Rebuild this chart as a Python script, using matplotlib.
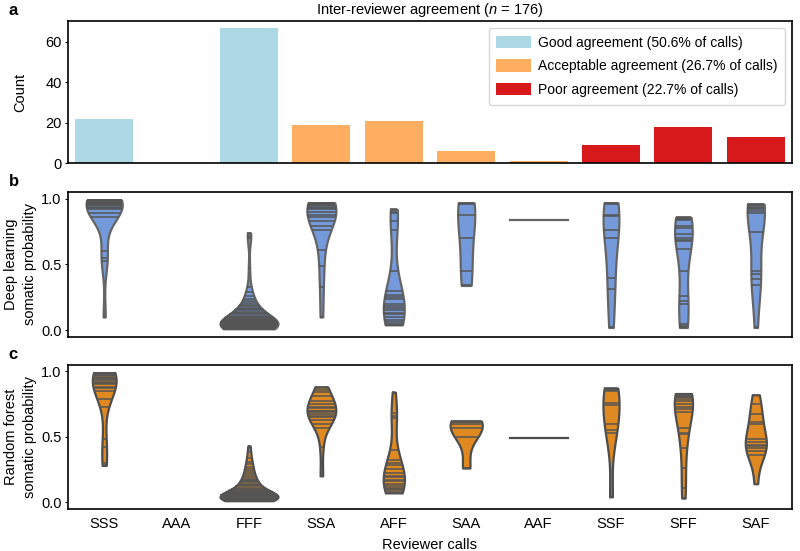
import matplotlib
matplotlib.use('Agg')
import matplotlib.pyplot as plt
from matplotlib.patches import Patch
import seaborn as sns
import pandas as pd

plt.rcParams['font.family'] = ['Liberation Sans', 'DejaVu Sans']
plt.rcParams['mathtext.fontset'] = 'custom'
plt.rcParams['mathtext.it'] = 'Liberation Sans:italic'
plt.rcParams['axes.linewidth'] = 1.2

# 審查者判定類別與數量
calls = ['SSS', 'AAA', 'FFF', 'SSA', 'AFF', 'SAA', 'AAF', 'SSF', 'SFF', 'SAF']
counts = [22, 0, 67, 19, 21, 6, 1, 9, 18, 13]
agreement = ['good', 'good', 'good', 'acceptable', 'acceptable', 'acceptable',
             'acceptable', 'poor', 'poor', 'poor']

agree_colors = {'good': '#add8e6', 'acceptable': '#fdae61', 'poor': '#d7191c'}
agree_labels = {'good': 'Good agreement (50.6% of calls)',
                'acceptable': 'Acceptable agreement (26.7% of calls)',
                'poor': 'Poor agreement (22.7% of calls)'}

# deep learning somatic probability
dl_sss = [0.99, 0.99, 0.99, 0.98, 0.98, 0.98, 0.97, 0.97, 0.97, 0.96, 0.96,
          0.95, 0.95, 0.94, 0.93, 0.92, 0.89, 0.86, 0.60, 0.55, 0.53, 0.10]
dl_fff = [0.74, 0.72, 0.70, 0.47, 0.33, 0.29, 0.26, 0.24, 0.22, 0.21,
          0.19, 0.18, 0.17, 0.16, 0.15, 0.14, 0.13, 0.12, 0.11, 0.10,
          0.09, 0.09, 0.08, 0.08, 0.08, 0.07, 0.07, 0.07, 0.06, 0.06,
          0.06, 0.06, 0.05, 0.05, 0.05, 0.05,
          0.04, 0.04, 0.04, 0.04, 0.04, 0.04, 0.04, 0.04,
          0.03, 0.03, 0.03, 0.03, 0.03, 0.03, 0.03, 0.03, 0.03,
          0.02, 0.02, 0.02, 0.02, 0.02, 0.02, 0.02, 0.02, 0.02,
          0.01, 0.01, 0.01, 0.01, 0.01]
dl_ssa = [0.97, 0.97, 0.96, 0.96, 0.95, 0.95, 0.94, 0.93, 0.92, 0.90,
          0.88, 0.86, 0.83, 0.79, 0.76, 0.61, 0.49, 0.33, 0.10]
dl_aff = [0.92, 0.90, 0.89, 0.83, 0.76, 0.45, 0.30, 0.27, 0.25, 0.24, 0.20,
          0.18, 0.17, 0.15, 0.13, 0.12, 0.10, 0.08, 0.06, 0.05, 0.04]
dl_saa = [0.97, 0.96, 0.88, 0.70, 0.45, 0.34]
dl_aaf = [0.84]
dl_ssf = [0.97, 0.96, 0.88, 0.87, 0.76, 0.70, 0.40, 0.31, 0.02]
dl_sff = [0.86, 0.85, 0.85, 0.84, 0.79, 0.78, 0.73, 0.70, 0.69, 0.68,
          0.62, 0.45, 0.26, 0.22, 0.20, 0.05, 0.03, 0.02]
dl_saf = [0.96, 0.95, 0.94, 0.93, 0.92, 0.91, 0.89, 0.75, 0.45, 0.43,
          0.39, 0.34, 0.02]

# random forest somatic probability
rf_sss = [0.99, 0.99, 0.98, 0.98, 0.97, 0.97, 0.96, 0.95, 0.94, 0.93, 0.92,
          0.91, 0.90, 0.88, 0.87, 0.85, 0.79, 0.73, 0.48, 0.42, 0.30, 0.28]
rf_fff = [0.43, 0.38, 0.34, 0.31, 0.29, 0.27, 0.25, 0.24, 0.22, 0.21,
          0.19, 0.18, 0.17, 0.16, 0.16, 0.15, 0.14, 0.13, 0.13, 0.12,
          0.11, 0.10,
          0.09, 0.09, 0.08, 0.08, 0.08, 0.07, 0.07, 0.07, 0.06, 0.06,
          0.06, 0.06, 0.05, 0.05, 0.05,
          0.04, 0.04, 0.04, 0.04, 0.04, 0.04, 0.04, 0.04,
          0.03, 0.03, 0.03, 0.03, 0.03, 0.03, 0.03, 0.03,
          0.02, 0.02, 0.02, 0.02, 0.02, 0.02, 0.02, 0.02,
          0.01, 0.01, 0.01, 0.01, 0.01, 0.01]
rf_ssa = [0.88, 0.86, 0.84, 0.81, 0.77, 0.75, 0.73, 0.72, 0.70, 0.70,
          0.69, 0.67, 0.66, 0.65, 0.63, 0.60, 0.57, 0.42, 0.20]
rf_aff = [0.84, 0.68, 0.66, 0.64, 0.40, 0.32, 0.30, 0.28, 0.25, 0.22, 0.20,
          0.19, 0.17, 0.16, 0.14, 0.12, 0.11, 0.10, 0.09, 0.08, 0.07]
rf_saa = [0.62, 0.61, 0.60, 0.57, 0.50, 0.26]
rf_aaf = [0.49]
rf_ssf = [0.87, 0.86, 0.85, 0.76, 0.74, 0.60, 0.55, 0.53, 0.04]
rf_sff = [0.83, 0.82, 0.81, 0.80, 0.80, 0.79, 0.77, 0.75, 0.73, 0.71,
          0.69, 0.57, 0.53, 0.52, 0.41, 0.26, 0.11, 0.03]
rf_saf = [0.82, 0.75, 0.67, 0.61, 0.60, 0.48, 0.46, 0.44, 0.43, 0.41,
          0.39, 0.36, 0.14]

dl_values = {'SSS': dl_sss, 'FFF': dl_fff, 'SSA': dl_ssa, 'AFF': dl_aff, 'SAA': dl_saa,
             'AAF': dl_aaf, 'SSF': dl_ssf, 'SFF': dl_sff, 'SAF': dl_saf}
rf_values = {'SSS': rf_sss, 'FFF': rf_fff, 'SSA': rf_ssa, 'AFF': rf_aff, 'SAA': rf_saa,
             'AAF': rf_aaf, 'SSF': rf_ssf, 'SFF': rf_sff, 'SAF': rf_saf}

dl_df = pd.DataFrame([(c, v) for c, vals in dl_values.items() for v in vals], columns=['call', 'prob'])
rf_df = pd.DataFrame([(c, v) for c, vals in rf_values.items() for v in vals], columns=['call', 'prob'])

fig = plt.figure(figsize=(8.0, 5.51), dpi=100)
ax_a = fig.add_axes([0.085, 0.704, 0.905, 0.258])
ax_b = fig.add_axes([0.085, 0.389, 0.905, 0.262])
ax_c = fig.add_axes([0.085, 0.077, 0.905, 0.261])

fs = 10.5

# a: 計數柱狀圖
ax_a.bar(range(len(calls)), counts, width=0.8,
         color=[agree_colors[a] for a in agreement])
ax_a.set_xlim(-0.5, len(calls) - 0.5)
ax_a.set_yticks([0, 20, 40, 60])
ax_a.set_xticks([])
ax_a.set_ylabel('Count', fontsize=fs)
ax_a.yaxis.set_label_coords(-0.056, 0.5)
ax_a.tick_params(axis='y', labelsize=fs, length=2.5, pad=2)
ax_a.set_title('Inter-reviewer agreement ($\\it{n}$ = 176)', fontsize=fs, pad=5)
handles = [Patch(facecolor=agree_colors[k], label=agree_labels[k]) for k in ['good', 'acceptable', 'poor']]
ax_a.legend(handles=handles, loc='upper right', fontsize=10, handlelength=2.5,
            handleheight=1.0, labelspacing=0.7, handletextpad=0.5, borderpad=0.55)

# b, c: violin plots
stick_kws = {'color': '#555555', 'linewidth': 1.1}
sns.violinplot(data=dl_df, x='call', y='prob', order=calls, color='cornflowerblue',
               inner='stick', cut=0, linewidth=1.6, inner_kws=stick_kws, ax=ax_b)
sns.violinplot(data=rf_df, x='call', y='prob', order=calls, color='darkorange',
               inner='stick', cut=0, linewidth=1.6, inner_kws=stick_kws, ax=ax_c)

for ax, lab in [(ax_b, 'Deep learning\nsomatic probability'),
                (ax_c, 'Random forest\nsomatic probability')]:
    ax.set_xlim(-0.5, len(calls) - 0.5)
    ax.set_ylim(-0.05, 1.05)
    ax.set_yticks([0.0, 0.5, 1.0])
    ax.set_yticklabels(['0.0', '0.5', '1.0'])
    ax.set_ylabel(lab, fontsize=fs, linespacing=1.4)
    ax.yaxis.set_label_coords(-0.043, 0.5)
    ax.tick_params(axis='y', labelsize=fs, length=2.5, pad=2)
    ax.tick_params(axis='x', length=0, labelsize=fs, pad=6)

ax_b.set_xticklabels([])
ax_b.set_xlabel('')
ax_c.set_xlabel('Reviewer calls', fontsize=fs, labelpad=5)

for ax, letter in [(ax_a, 'a'), (ax_b, 'b'), (ax_c, 'c')]:
    ax.text(-0.082, 1.02, letter, transform=ax.transAxes, fontsize=12,
            fontweight='bold', va='bottom', ha='left')

fig.savefig('out.png', dpi=100)
